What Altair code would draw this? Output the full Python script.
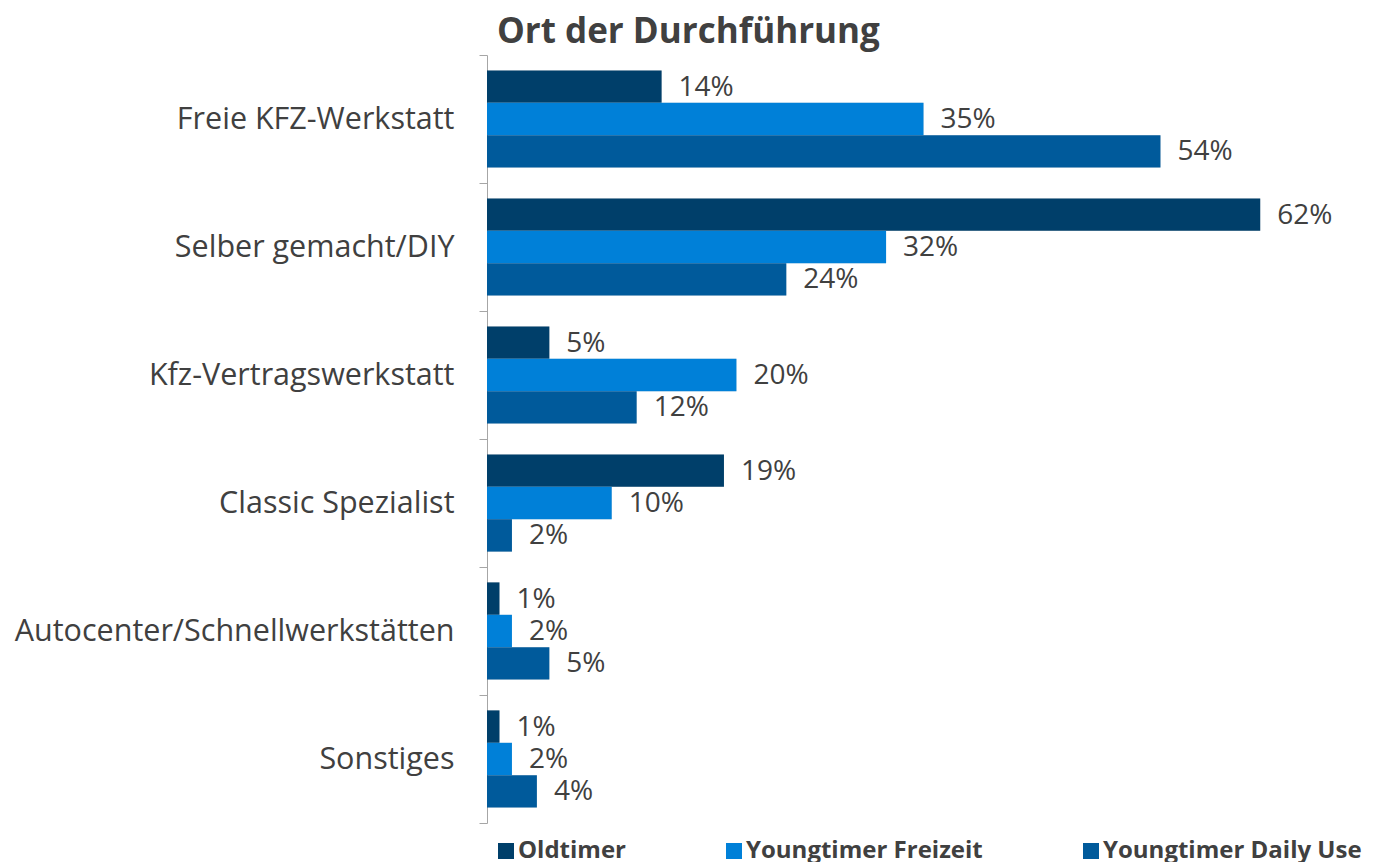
import altair as alt
import pandas as pd

categories = ["Freie KFZ-Werkstatt", "Selber gemacht/DIY", "Kfz-Vertragswerkstatt",
              "Classic Spezialist", "Autocenter/Schnellwerkstätten", "Sonstiges"]
series = ["Oldtimer", "Youngtimer Freizeit", "Youngtimer Daily Use"]
oldtimer = [14, 62, 5, 19, 1, 1]
freizeit = [35, 32, 20, 10, 2, 2]
daily = [54, 24, 12, 2, 5, 4]
colors = ["#003f6a", "#0080d8", "#005a9b"]

rows = []
for i, c in enumerate(categories):
    for s, vals in zip(series, [oldtimer, freizeit, daily]):
        rows.append({"cat": c, "series": s, "value": vals[i], "label": f"{vals[i]}%"})
df = pd.DataFrame(rows)

FONT = "Open Sans"
TXT = "#404040"
NBSP = "\u00a0"

y = alt.Y("cat:N", sort=categories, title=None,
          scale=alt.Scale(paddingInner=0, paddingOuter=0),
          axis=alt.Axis(tickBand="extent", labelFontSize=30.5, labelFont=FONT, labelColor=TXT,
                        labelPadding=25, tickSize=8, tickColor="#a6a6a6", domainColor="#a6a6a6",
                        labelLimit=800))
yoff = alt.YOffset("series:N", sort=series, scale=alt.Scale(paddingOuter=0.475, paddingInner=0))
x = alt.X("value:Q", scale=alt.Scale(domain=[0, 70]), axis=None)
color = alt.Color("series:N", sort=series, scale=alt.Scale(domain=series, range=colors),
                  legend=alt.Legend(orient="none", legendX=7, legendY=784, direction="horizontal",
                                    title=None, symbolType="square", symbolSize=256,
                                    symbolStrokeWidth=0, labelFont=FONT, labelFontSize=24,
                                    labelFontWeight="bold", labelColor=TXT, columnPadding=96,
                                    labelOffset=0, labelLimit=800, padding=0,
                                    labelExpr="datum.label == 'Youngtimer Freizeit' ? datum.label + '"
                                              + NBSP * 2 + "' : datum.label"))

base = alt.Chart(df)
shadow = base.mark_bar(color="#000000", opacity=0.13, x2Offset=5, yOffset=3, y2Offset=3).encode(
    y=y, yOffset=yoff, x=x)
bars = base.mark_bar().encode(y=y, yOffset=yoff, x=x, color=color)
labels = base.mark_text(align="left", baseline="middle", dx=17, dy=1, fontSize=28, font=FONT,
                        color=TXT).encode(y=y, yOffset=yoff, x=x, text="label:N")

chart = alt.layer(shadow, bars, labels).properties(
    width=873, height=768,
    title=alt.TitleParams("Ort der Durchführung", anchor="start", frame="group", dx=10, dy=20,
                          fontSize=35, font=FONT, fontWeight="bold", color=TXT, offset=10),
    autosize=alt.AutoSizeParams(type="none"),
    padding={"left": 479, "top": 47, "right": 5, "bottom": 39},
).configure_view(stroke=None)

chart.save("out.html", embed_options={"renderer": "svg", "actions": False})
